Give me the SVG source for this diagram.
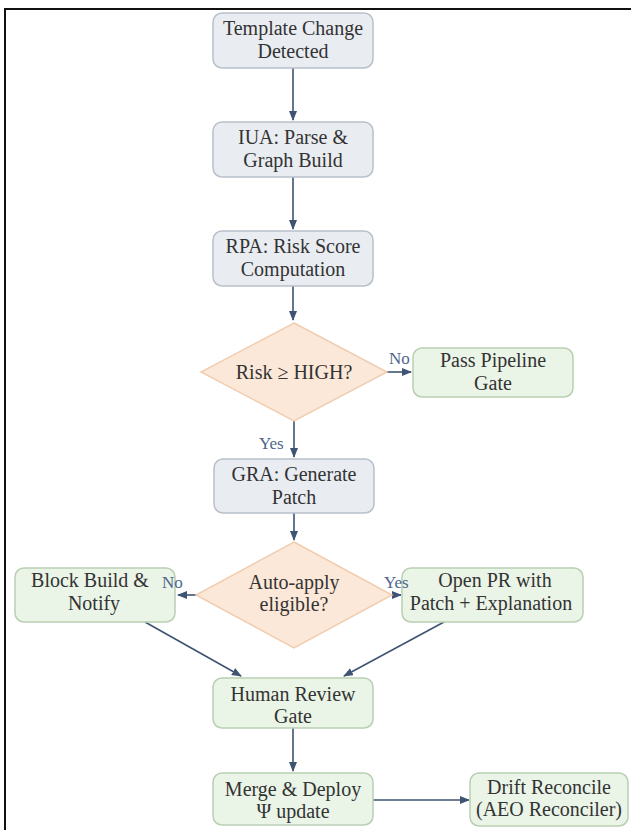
<svg xmlns="http://www.w3.org/2000/svg" width="631" height="830" viewBox="0 0 631 830">
<style>
.t{font-family:"Liberation Serif","DejaVu Serif",serif;font-size:20px;fill:#333;text-anchor:middle}
.l{font-family:"Liberation Serif","DejaVu Serif",serif;font-size:17px;fill:#4d668c}
.g{fill:#e9edf2;stroke:#b9c0ca;stroke-width:1.5}
.v{fill:#eaf4e7;stroke:#b8cfb2;stroke-width:1.5}
.d{fill:#fce8d8;stroke:#f1cdb0;stroke-width:1.5}
.c{stroke:#3e5472;stroke-width:1.6;fill:none;marker-end:url(#ah)}
</style>
<defs>
<marker id="ah" markerUnits="userSpaceOnUse" markerWidth="10" markerHeight="8" refX="9" refY="4" orient="auto">
<path d="M0,0 L10,4 L0,8 z" fill="#3e5472"/>
</marker>
</defs>
<rect x="0" y="0" width="631" height="830" fill="#fff"/>
<rect x="5" y="9" width="700" height="900" fill="none" stroke="#111" stroke-width="2"/>
<g id="connectors">
<line class="c" x1="293" y1="68" x2="293" y2="120"/>
<line class="c" x1="293" y1="177" x2="293" y2="229"/>
<line class="c" x1="293" y1="286" x2="293" y2="320"/>
<line class="c" x1="387" y1="372" x2="411" y2="372"/>
<line class="c" x1="294" y1="421" x2="294" y2="457"/>
<line class="c" x1="294" y1="513" x2="294" y2="540"/>
<line class="c" x1="196" y1="595" x2="178" y2="595"/>
<line class="c" x1="392" y1="595" x2="401" y2="595"/>
<line class="c" x1="145" y1="622" x2="241" y2="676"/>
<line class="c" x1="444" y1="622" x2="344" y2="676"/>
<line class="c" x1="293" y1="728" x2="293" y2="771"/>
<line class="c" x1="373" y1="800" x2="469" y2="800"/>
</g>
<g id="n1"><rect class="g" x="213" y="13" width="160" height="55" rx="9"/><text class="t" x="293" y="35">Template Change</text><text class="t" x="293" y="58">Detected</text></g>
<g id="n2"><rect class="g" x="213" y="122" width="160" height="55" rx="9"/><text class="t" x="293" y="144">IUA: Parse &amp;</text><text class="t" x="293" y="167">Graph Build</text></g>
<g id="n3"><rect class="g" x="213" y="231" width="160" height="55" rx="9"/><text class="t" x="293" y="253">RPA: Risk Score</text><text class="t" x="293" y="276">Computation</text></g>
<g id="d1"><polygon class="d" points="294,323 387,372 294,421 201,372"/><text class="t" x="294" y="379">Risk ≥ HIGH?</text></g>
<g id="n4"><rect class="v" x="413" y="348" width="160" height="49" rx="9"/><text class="t" x="493" y="367">Pass Pipeline</text><text class="t" x="493" y="390">Gate</text></g>
<g id="n5"><rect class="g" x="214" y="459" width="160" height="54" rx="9"/><text class="t" x="294" y="481">GRA: Generate</text><text class="t" x="294" y="504">Patch</text></g>
<g id="d2"><polygon class="d" points="294,542 392,595 294,648 196,595"/><text class="t" x="294" y="589">Auto-apply</text><text class="t" x="294" y="611">eligible?</text></g>
<g id="n6"><rect class="v" x="15" y="568" width="160" height="54" rx="9"/><text class="t" x="90" y="587">Block Build &amp;</text><text class="t" x="94" y="610">Notify</text></g>
<g id="n7"><rect class="v" x="402" y="568" width="181" height="54" rx="9"/><text class="t" x="495" y="587">Open PR with</text><text class="t" x="491" y="610">Patch + Explanation</text></g>
<g id="n8"><rect class="v" x="213" y="678" width="160" height="50" rx="9"/><text class="t" x="293" y="701">Human Review</text><text class="t" x="293" y="723">Gate</text></g>
<g id="n9"><rect class="v" x="213" y="773" width="160" height="52" rx="9"/><text class="t" x="293" y="796">Merge &amp; Deploy</text><text class="t" x="293" y="818">Ψ update</text></g>
<g id="n10"><rect class="v" x="470" y="773" width="158" height="53" rx="9"/><text class="t" x="549" y="794">Drift Reconcile</text><text class="t" x="549" y="816">(AEO Reconciler)</text></g>
<g id="labels">
<text class="l" x="389" y="364">No</text>
<text class="l" x="259" y="449">Yes</text>
<text class="l" x="162" y="588">No</text>
<text class="l" x="384" y="588">Yes</text>
</g>
</svg>
